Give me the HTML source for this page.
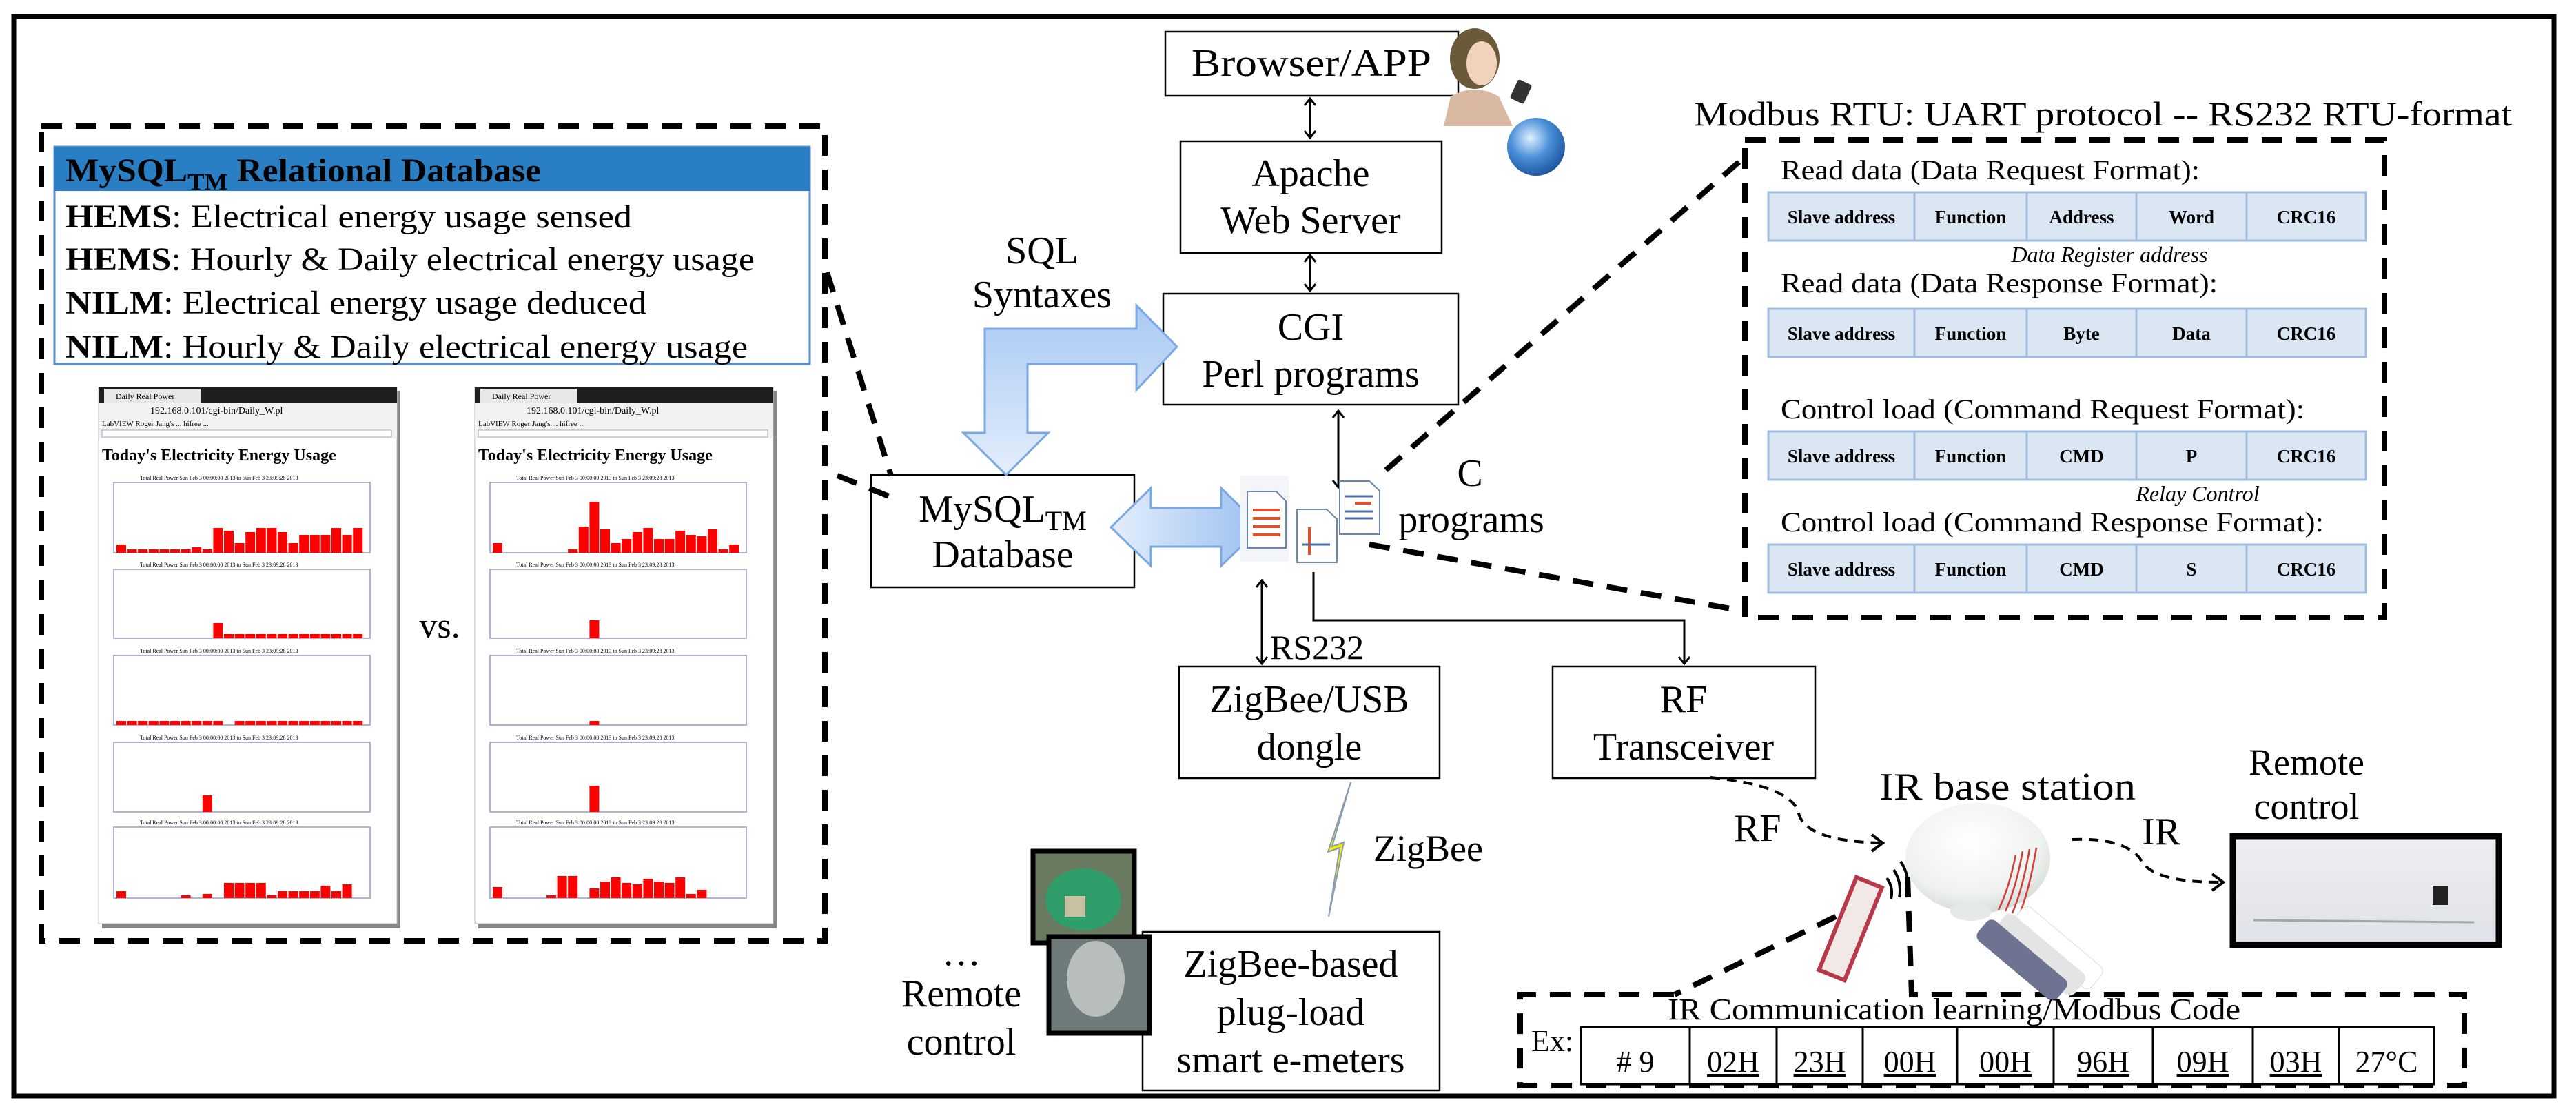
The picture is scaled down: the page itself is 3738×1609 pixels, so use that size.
<!DOCTYPE html>
<html><head><meta charset="utf-8"><style>
html,body{margin:0;padding:0;background:#fff;font-family:"Liberation Serif","Noto Serif CJK SC","DejaVu Serif",serif}
svg{display:block}
text,tspan{font-family:"Liberation Serif","Noto Serif CJK SC","DejaVu Serif",serif;fill:#000}
.b{font-size:56px;text-anchor:middle}
.cell{font-size:27px;font-weight:bold;text-anchor:middle}
.lab{font-size:40px}
.code{font-size:44px;text-anchor:middle;text-decoration:underline}
</style></head><body>
<svg width="3738" height="1609" viewBox="0 0 3738 1609" xmlns="http://www.w3.org/2000/svg">
<defs>
<linearGradient id="bl" x1="0" y1="0" x2="0" y2="1"><stop offset="0" stop-color="#a9c9f3"/><stop offset="1" stop-color="#e3eefc"/></linearGradient>
<linearGradient id="bl2" x1="0" y1="0" x2="1" y2="0"><stop offset="0" stop-color="#e3eefc"/><stop offset="1" stop-color="#9cc0f0"/></linearGradient>
<radialGradient id="gl" cx="0.4" cy="0.35" r="0.7"><stop offset="0" stop-color="#dff0ff"/><stop offset="0.5" stop-color="#4a8fd8"/><stop offset="1" stop-color="#1a4f9a"/></radialGradient>
<radialGradient id="dome" cx="0.45" cy="0.35" r="0.7"><stop offset="0" stop-color="#ffffff"/><stop offset="0.7" stop-color="#eef2ee"/><stop offset="1" stop-color="#cfd6d2"/></radialGradient>
<linearGradient id="ac" x1="0" y1="0" x2="0" y2="1"><stop offset="0" stop-color="#eceef2"/><stop offset="1" stop-color="#dfe2e8"/></linearGradient>
</defs>

<rect x="20" y="24" width="3686" height="1566" fill="none" stroke="#000" stroke-width="7"/>

<rect x="60" y="183" width="1137" height="1182" fill="none" stroke="#000" stroke-width="8" stroke-dasharray="30,20"/>

<rect x="79" y="213" width="1096" height="315" fill="#fff" stroke="#5a8fd0" stroke-width="3"/>
<rect x="79" y="213" width="1096" height="64" fill="#2a7fc4"/>
<text x="95" y="263" font-size="48" font-weight="bold" textLength="690" lengthAdjust="spacingAndGlyphs">MySQL<tspan font-size="34" dy="12">TM</tspan><tspan dy="-12"> Relational Database</tspan></text>
<text x="95" y="330" font-size="48" textLength="822" lengthAdjust="spacingAndGlyphs"><tspan font-weight="bold">HEMS</tspan>: Electrical energy usage sensed</text>
<text x="95" y="392" font-size="48" textLength="1000" lengthAdjust="spacingAndGlyphs"><tspan font-weight="bold">HEMS</tspan>: Hourly &amp; Daily electrical energy usage</text>
<text x="95" y="455" font-size="48" textLength="843" lengthAdjust="spacingAndGlyphs"><tspan font-weight="bold">NILM</tspan>: Electrical energy usage deduced</text>
<text x="95" y="519" font-size="48" textLength="990" lengthAdjust="spacingAndGlyphs"><tspan font-weight="bold">NILM</tspan>: Hourly &amp; Daily electrical energy usage</text>

<g id="shots"></g>
<text x="638" y="925" font-size="52" text-anchor="middle">vs.</text>

<g fill="#fff" stroke="#000" stroke-width="2.5">
<rect x="1691" y="46" width="425" height="93"/>
<rect x="1713" y="205" width="379" height="162"/>
<rect x="1688" y="426" width="428" height="161"/>
<rect x="1264" y="689" width="382" height="163"/>
<rect x="1711" y="967" width="378" height="162"/>
<rect x="2253" y="967" width="381" height="162"/>
<rect x="1658" y="1352" width="431" height="230"/>
</g>
<text class="b" x="1903" y="110" textLength="348" lengthAdjust="spacingAndGlyphs">Browser/APP</text>
<text class="b" x="1902" y="270">Apache</text>
<text class="b" x="1902" y="338">Web Server</text>
<text class="b" x="1902" y="493">CGI</text>
<text class="b" x="1902" y="561">Perl programs</text>
<text class="b" x="1455" y="757">MySQL<tspan font-size="40" dy="12">TM</tspan></text>
<text class="b" x="1455" y="823">Database</text>
<text class="b" x="1900" y="1033">ZigBee/USB</text>
<text class="b" x="1900" y="1102">dongle</text>
<text class="b" x="2443" y="1033">RF</text>
<text class="b" x="2443" y="1102">Transceiver</text>
<text class="b" x="1873" y="1417">ZigBee-based</text>
<text class="b" x="1873" y="1487">plug-load</text>
<text class="b" x="1873" y="1556">smart e-meters</text>

<text class="b" x="1512" y="382">SQL</text>
<text class="b" x="1512" y="446">Syntaxes</text>
<text x="2133" y="705" font-size="56" text-anchor="middle">C</text>
<text x="2135" y="772" font-size="56" text-anchor="middle">programs</text>
<text x="1843" y="956" font-size="50">RS232</text>
<text x="1993" y="1249" font-size="54">ZigBee</text>
<text x="1395" y="1400" font-size="56" text-anchor="middle">…</text>
<text x="1395" y="1460" font-size="56" text-anchor="middle">Remote</text>
<text x="1395" y="1530" font-size="56" text-anchor="middle">control</text>

<g stroke="#000" stroke-width="3" fill="none">
<path d="M1901,143 L1901,200 M1893,153 L1901,143 L1909,153 M1893,190 L1901,200 L1909,190"/>
<path d="M1901,370 L1901,422 M1893,380 L1901,370 L1909,380 M1893,412 L1901,422 L1909,412"/>
<path d="M1942,596 L1942,707 M1934,606 L1942,596 L1950,606 M1934,697 L1942,707 L1950,697"/>
<path d="M1831,842 L1831,963 M1823,852 L1831,842 L1839,852 M1823,953 L1831,963 L1839,953"/>
<path d="M1906,830 L1906,900 L2444,900 L2444,963 M2436,953 L2444,963 L2452,953"/>
</g>

<path d="M1429,477 L1649,477 L1649,443 L1708,503 L1649,566 L1649,528 L1491,528 L1491,628 L1521,628 L1460,689 L1398,628 L1429,628 Z" fill="url(#bl)" stroke="#7aa8e2" stroke-width="3"/>
<path d="M1612,765 L1670,708 L1670,737 L1772,737 L1772,708 L1830,765 L1772,821 L1772,793 L1670,793 L1670,821 Z" fill="url(#bl2)" stroke="#7aa8e2" stroke-width="3"/>

<rect x="1800" y="690" width="70" height="125" fill="#f3f5f8"/>
<g stroke="#6a86b0" stroke-width="2">
<path d="M1810,713 L1852,713 L1866,727 L1866,795 L1810,795 Z" fill="#fff"/>
<path d="M1882,739 L1925,739 L1940,753 L1940,816 L1882,816 Z" fill="#fff"/>
<path d="M1944,698 L1987,698 L2002,712 L2002,775 L1944,775 Z" fill="#fff"/>
</g>
<g stroke="#e0502a" stroke-width="4"><line x1="1818" y1="740" x2="1858" y2="740"/><line x1="1818" y1="752" x2="1858" y2="752"/><line x1="1818" y1="764" x2="1858" y2="764"/><line x1="1818" y1="776" x2="1858" y2="776"/><line x1="1900" y1="765" x2="1900" y2="805"/><line x1="1966" y1="730" x2="1990" y2="730"/></g>
<g stroke="#4a6ea8" stroke-width="3"><line x1="1890" y1="790" x2="1930" y2="790"/><line x1="1952" y1="720" x2="1992" y2="720"/><line x1="1952" y1="742" x2="1992" y2="742"/><line x1="1952" y1="752" x2="1992" y2="752"/></g>

<ellipse cx="2140" cy="85" rx="36" ry="44" fill="#6b5a3a"/>
<ellipse cx="2150" cy="92" rx="22" ry="32" fill="#f1d2bc"/>
<path d="M2095,183 L2105,140 Q2140,120 2175,140 L2195,183 Z" fill="#d9b9a2"/>
<rect x="2196" y="118" width="22" height="30" rx="3" fill="#333" transform="rotate(25 2207 133)"/>
<circle cx="2229" cy="213" r="42" fill="url(#gl)"/>

<path d="M1960,1135 L1933,1228 L1950,1222 L1928,1330 L1944,1230 L1927,1236 Z" fill="#f5f000" stroke="#8a9ab0" stroke-width="2"/>

<rect x="1499" y="1235" width="147" height="133" fill="#6a7a60" stroke="#000" stroke-width="7"/>
<ellipse cx="1572" cy="1305" rx="55" ry="45" fill="#2f9e6b"/>
<rect x="1545" y="1300" width="30" height="30" fill="#c8c0a0"/>
<rect x="1522" y="1359" width="146" height="140" fill="#6f7a7a" stroke="#000" stroke-width="7"/>
<ellipse cx="1590" cy="1420" rx="42" ry="55" fill="#b8bebc"/>

<text x="2458" y="182" font-size="50" textLength="1187" lengthAdjust="spacingAndGlyphs">Modbus RTU: UART protocol -- RS232 RTU-format</text>
<rect x="2532" y="203" width="928" height="693" fill="none" stroke="#000" stroke-width="8" stroke-dasharray="30,20"/>
<g stroke="#000" stroke-width="8" stroke-dasharray="30,20" fill="none">
<line x1="2011" y1="682" x2="2528" y2="231"/>
<line x1="1987" y1="790" x2="2528" y2="886"/>
<line x1="1200" y1="395" x2="1293" y2="690"/>
<line x1="1215" y1="690" x2="1290" y2="720"/>
<line x1="2709" y1="1308" x2="2430" y2="1443"/>
<path d="M2768,1272 L2774,1443 L3576,1443 L3576,1575 L2206,1575 L2206,1443 L2430,1443"/>
</g>
<g id="mtables"></g>
<text class="lab" x="2584" y="260" textLength="608" lengthAdjust="spacingAndGlyphs">Read data (Data Request Format):</text>
<text x="3061" y="380" font-size="32" font-style="italic" text-anchor="middle">Data Register address</text>
<text class="lab" x="2584" y="424" textLength="634" lengthAdjust="spacingAndGlyphs">Read data (Data Response Format):</text>
<text class="lab" x="2584" y="607" textLength="760" lengthAdjust="spacingAndGlyphs">Control load (Command Request Format):</text>
<text x="3189" y="727" font-size="32" font-style="italic" text-anchor="middle">Relay Control</text>
<text class="lab" x="2584" y="771" textLength="788" lengthAdjust="spacingAndGlyphs">Control load (Command Response Format):</text>

<g stroke="#000" stroke-width="4" stroke-dasharray="14,10" fill="none">
<path d="M2482,1128 Q2600,1140 2610,1180 Q2620,1220 2728,1223"/>
<path d="M3007,1218 Q3080,1215 3105,1245 Q3120,1280 3220,1280"/>
</g>
<path d="M2716,1211 L2732,1223 L2716,1235 M3210,1268 L3226,1280 L3210,1292" fill="none" stroke="#000" stroke-width="4"/>
<text x="2516" y="1220" font-size="56">RF</text>
<text x="3108" y="1225" font-size="56">IR</text>
<text x="2727" y="1160" font-size="56" textLength="372" lengthAdjust="spacingAndGlyphs">IR base station</text>
<text x="3347" y="1124" font-size="54" text-anchor="middle">Remote</text>
<text x="3347" y="1188" font-size="54" text-anchor="middle">control</text>

<ellipse cx="2870" cy="1245" rx="105" ry="80" fill="url(#dome)"/>
<ellipse cx="2860" cy="1322" rx="30" ry="14" fill="#e4e8e6"/>
<g stroke="#d43a3a" stroke-width="2.5" fill="none">
<path d="M2925,1240 Q2915,1290 2900,1320"/><path d="M2935,1235 Q2925,1290 2910,1322"/><path d="M2945,1232 Q2935,1290 2920,1325"/><path d="M2955,1230 Q2945,1290 2930,1328"/>
</g>
<g stroke="#000" stroke-width="4" fill="none"><path d="M2758,1250 Q2772,1270 2768,1300"/><path d="M2748,1262 Q2760,1280 2756,1302"/><path d="M2738,1274 Q2748,1288 2744,1304"/></g>
<rect x="2965" y="1300" width="40" height="150" rx="10" fill="#fff" stroke="#ddd" transform="rotate(-50 2985 1375)"/>
<rect x="2940" y="1310" width="40" height="150" rx="10" fill="#e4e4e4" transform="rotate(-50 2960 1385)"/>
<rect x="2915" y="1318" width="38" height="150" rx="10" fill="#6e7392" transform="rotate(-50 2934 1393)"/>
<rect x="2665" y="1275" width="40" height="145" fill="#f3e8e8" stroke="#b83a4a" stroke-width="6" transform="rotate(22 2685 1348)"/>

<rect x="3240" y="1213" width="386" height="158" fill="url(#ac)" stroke="#000" stroke-width="9"/>
<rect x="3530" y="1285" width="22" height="28" fill="#222"/>
<line x1="3270" y1="1335" x2="3590" y2="1338" stroke="#9aa" stroke-width="3"/>

<text x="2420" y="1479" font-size="44" textLength="831" lengthAdjust="spacingAndGlyphs">IR Communication learning/Modbus Code</text>
<text x="2222" y="1525" font-size="44">Ex:</text>
<g id="ctable"></g>
</svg>
<script>
var NS="http://www.w3.org/2000/svg";
function el(p,t,a,txt){var e=document.createElementNS(NS,t);for(var k in a)e.setAttribute(k,a[k]);if(txt)e.textContent=txt;p.appendChild(e);return e;}
var mt=document.getElementById("mtables");
var cols=[2566,2778,2941,3100,3260,3433];
var tabs=[[279,["Slave address","Function","Address","Word","CRC16"]],[448,["Slave address","Function","Byte","Data","CRC16"]],[626,["Slave address","Function","CMD","P","CRC16"]],[790,["Slave address","Function","CMD","S","CRC16"]]];
tabs.forEach(function(t){var y=t[0];for(var i=0;i<5;i++){el(mt,"rect",{x:cols[i],y:y,width:cols[i+1]-cols[i],height:70,fill:"#dbe6f3",stroke:"#9fbde0","stroke-width":3});el(mt,"text",{x:(cols[i]+cols[i+1])/2,y:y+45,"class":"cell"},t[1][i]);}});
var ct=document.getElementById("ctable");
var cc=[2294,2452,2578,2703,2840,2980,3124,3269,3394,3532];
var cv=["# 9","02H","23H","00H","00H","96H","09H","03H","27°C"];
for(var i=0;i<9;i++){el(ct,"rect",{x:cc[i],y:1490,width:cc[i+1]-cc[i],height:83,fill:"#fff",stroke:"#000","stroke-width":3});var t=el(ct,"text",{x:(cc[i]+cc[i+1])/2,y:1555,"class":"code"},cv[i]);if(i==0||i==8)t.style.textDecoration="none";}
var sh=document.getElementById("shots");
var L=[
[12,5,5,5,5,5,5,8,5,36,32,14,30,36,36,30,14,26,26,26,36,26,36],
[0,0,0,0,0,0,0,0,0,22,6,6,6,6,6,6,6,6,6,6,6,6,6],
[6,6,6,6,6,6,6,6,6,6,0,6,6,6,6,6,6,6,6,6,6,6,6],
[0,0,0,0,0,0,0,0,24,0,0,0,0,0,0,0,0,0,0,0,0,0,0],
[10,0,0,0,0,0,4,0,6,0,22,22,22,22,4,10,10,10,10,18,10,20,0]];
var R=[
[14,0,0,0,0,0,0,5,38,74,34,14,20,30,36,20,20,32,26,24,34,5,12],
[0,0,0,0,0,0,0,0,0,26,0,0,0,0,0,0,0,0,0,0,0,0,0],
[0,0,0,0,0,0,0,0,0,6,0,0,0,0,0,0,0,0,0,0,0,0,0],
[0,0,0,0,0,0,0,0,0,38,0,0,0,0,0,0,0,0,0,0,0,0,0],
[16,0,0,0,0,4,32,32,0,14,24,30,22,20,28,24,22,30,6,12,0,0,0]];
var tops=[700,826,951,1077,1200],bots=[802,926,1052,1178,1303];
function shot(x0,D){
 el(sh,"rect",{x:x0+5,y:567,width:433,height:780,fill:"#888"});
 el(sh,"rect",{x:x0,y:562,width:433,height:778,fill:"#fff",stroke:"#bbb","stroke-width":1});
 el(sh,"rect",{x:x0,y:562,width:433,height:22,fill:"#1e1e1e"});
 el(sh,"rect",{x:x0+8,y:564,width:140,height:20,fill:"#e8e8e8"});
 el(sh,"text",{x:x0+25,y:579,"font-size":12,fill:"#333"},"Daily Real Power");
 el(sh,"rect",{x:x0,y:584,width:433,height:52,fill:"#f2f2f2"});
 el(sh,"text",{x:x0+75,y:600,"font-size":14,fill:"#444"},"192.168.0.101/cgi-bin/Daily_W.pl");
 el(sh,"text",{x:x0+5,y:618,"font-size":11,fill:"#444"},"LabVIEW   Roger Jang's ...   hifree ...");
 el(sh,"rect",{x:x0+5,y:624,width:420,height:10,fill:"#fff",stroke:"#9ab"});
 el(sh,"text",{x:x0+5,y:668,"font-size":24,"font-weight":"bold"},"Today's Electricity Energy Usage");
 for(var c=0;c<5;c++){
  el(sh,"text",{x:x0+60,y:tops[c]-4,"font-size":8,fill:"#55a"},"Total Real Power   Sun Feb 3 00:00:00 2013 to Sun Feb 3 23:09:28 2013");
  el(sh,"rect",{x:x0+22,y:tops[c],width:372,height:bots[c]-tops[c],fill:"#fff",stroke:"#99c","stroke-width":1.5});
  for(var i=0;i<23;i++){var h=D[c][i];if(h>0)el(sh,"rect",{x:x0+26+i*15.6,y:bots[c]-h,width:14,height:h,fill:"#f00"});}
 }
}
shot(143,L);shot(689,R);
</script>
</body></html>
